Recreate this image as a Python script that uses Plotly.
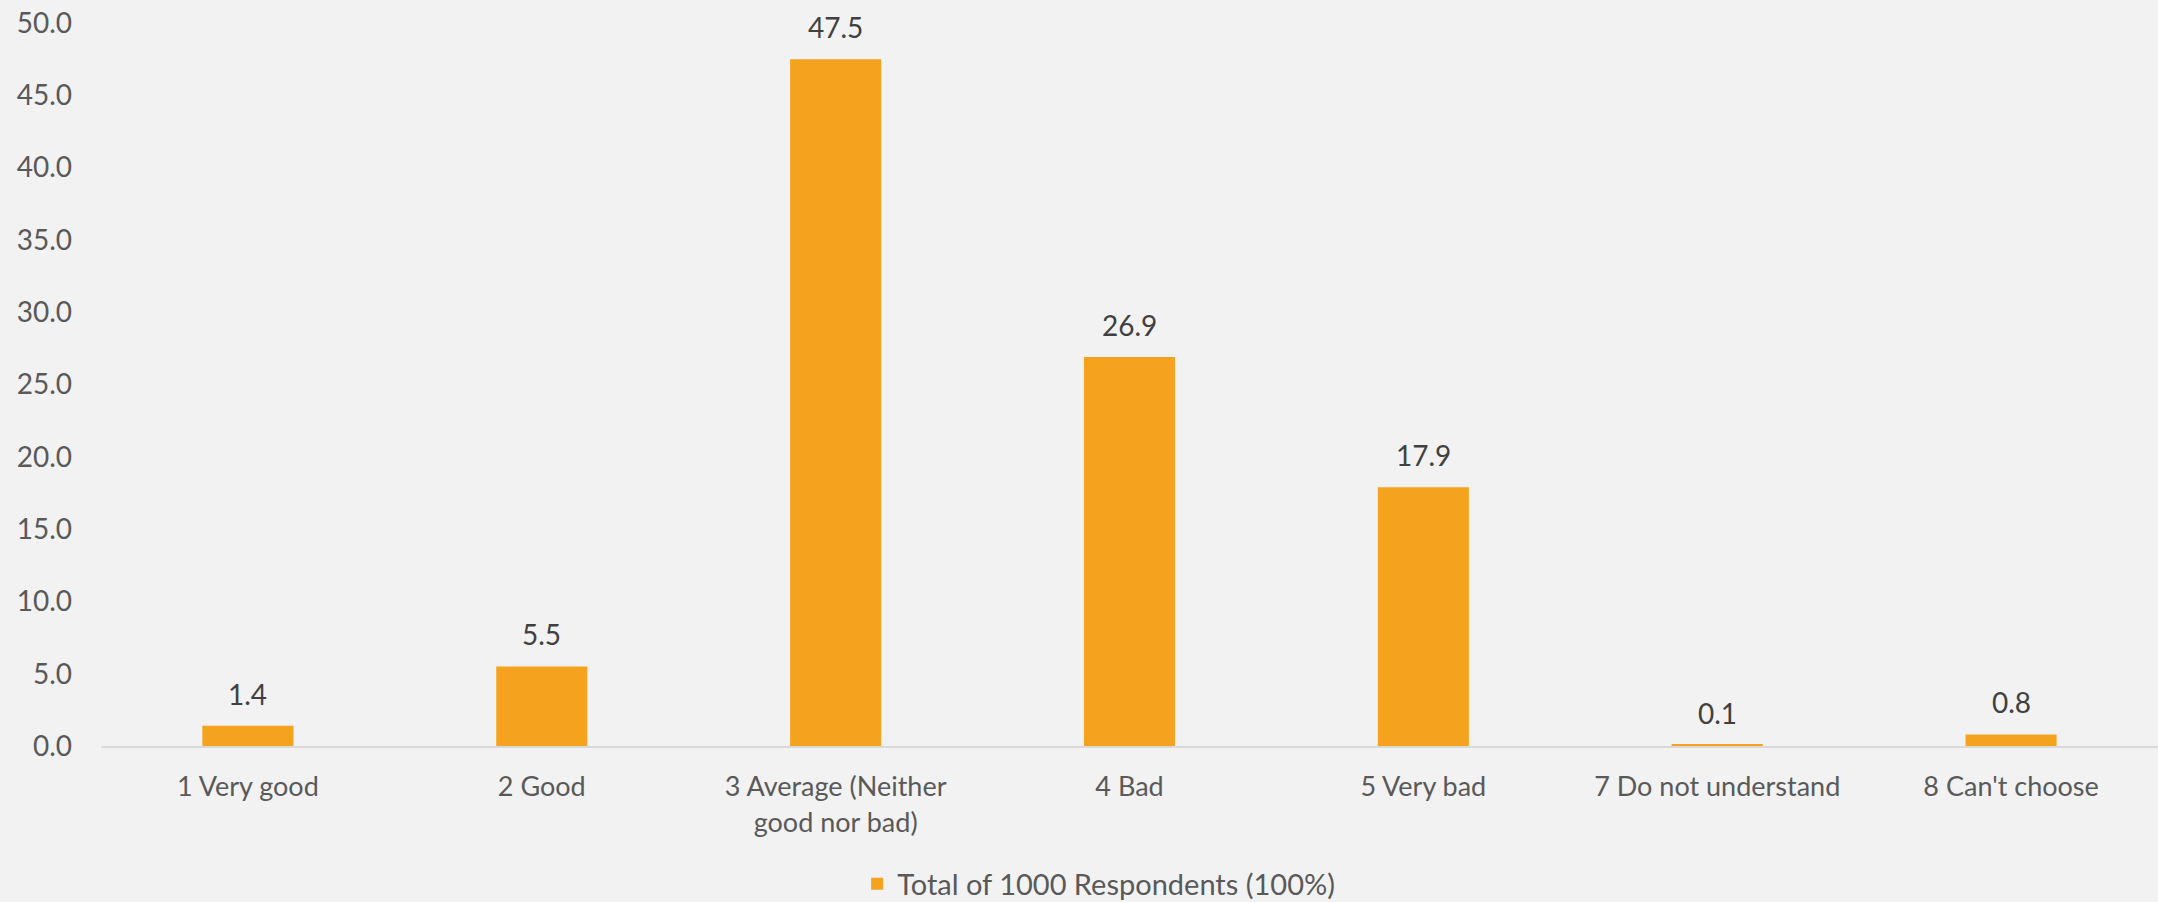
import plotly.graph_objects as go

categories = ["1 Very good", "2 Good", "3 Average (Neither<br>good nor bad)", "4 Bad",
              "5 Very bad", "7 Do not understand", "8 Can't choose"]
values = [1.4, 5.5, 47.5, 26.9, 17.9, 0.1, 0.8]
series_name = "Total of 1000 Respondents (100%)"
y_ticks = [0, 5, 10, 15, 20, 25, 30, 35, 40, 45, 50]

BAR = "#F5A31F"
FONT = "Lato, 'Open Sans', sans-serif"

fig = go.Figure()
fig.add_trace(go.Bar(
    x=categories, y=values, name=series_name,
    marker=dict(color=BAR, line=dict(width=0)),
    showlegend=True,
))

for c, v in zip(categories, values):
    fig.add_annotation(x=c, y=v, text=f"{v:.1f}", showarrow=False,
                       yanchor="bottom", yshift=13,
                       font=dict(family=FONT, size=28, color="#404040"))

fig.update_layout(
    width=2158, height=902,
    paper_bgcolor="#F2F2F2", plot_bgcolor="#F2F2F2",
    margin=dict(l=101, r=0, t=23, b=156, autoexpand=False),
    bargap=0.69,
    font=dict(family=FONT, size=27, color="#595959"),
    showlegend=True,
    legend=dict(orientation="h", x=0.485, xanchor="center",
                yref="container", y=0.02, yanchor="middle",
                font=dict(family=FONT, size=29, color="#595959"),
                bgcolor="rgba(0,0,0,0)"),
)
fig.update_xaxes(
    showgrid=False, showline=True, linecolor="#D9D9D9", linewidth=2,
    ticks="", ticklabelstandoff=16, tickfont=dict(family=FONT, size=27, color="#595959"),
    fixedrange=True, automargin=False,
)
fig.update_yaxes(
    range=[0, 50], tickvals=y_ticks, ticktext=[f"{t:.1f}" for t in y_ticks],
    showgrid=False, zeroline=False, showline=False, ticks="",
    ticklabelstandoff=28, tickfont=dict(family=FONT, size=28, color="#595959"),
    fixedrange=True, automargin=False,
)

fig.write_html("out.html", config={"displayModeBar": False},
               post_script="document.body.style.margin='0';document.body.style.background='#F2F2F2';")
